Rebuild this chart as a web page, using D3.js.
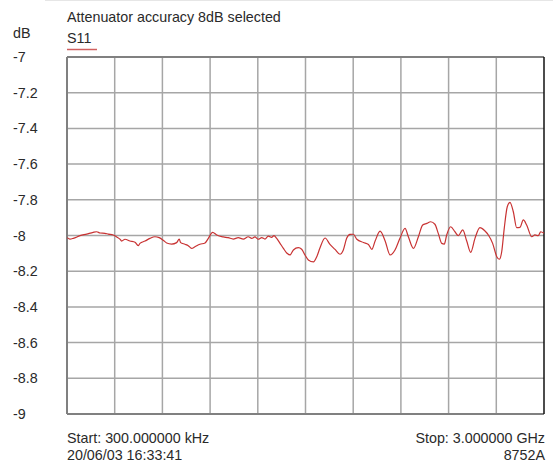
<!DOCTYPE html>
<html>
<head>
<meta charset="utf-8">
<script src="https://cdn.jsdelivr.net/npm/d3@7"></script>
<style>
  html, body { margin: 0; padding: 0; background: #fff; }
  svg { display: block; }
  text { font-family: "Liberation Sans", Arial, sans-serif; fill: #2a2a2a; }
</style>
</head>
<body>
<svg id="chart" width="553" height="463"></svg>
<script>
// ---- data ----
const title = "Attenuator accuracy 8dB selected";
const seriesName = "S11";
const yUnit = "dB";
const yTicks = [-7, -7.2, -7.4, -7.6, -7.8, -8, -8.2, -8.4, -8.6, -8.8, -9];
const yTickLabels = ["-7", "-7.2", "-7.4", "-7.6", "-7.8", "-8", "-8.2", "-8.4", "-8.6", "-8.8", "-9"];
const xDivisions = [0, 1, 2, 3, 4, 5, 6, 7, 8, 9, 10];
const startLabel = "Start: 300.000000 kHz";
const stopLabel = "Stop: 3.000000 GHz";
const dateLabel = "20/06/03 16:33:41";
const modelLabel = "8752A";
// frequency (MHz)
const freqMHz = [2, 19, 40, 82, 124, 165, 187, 208, 239, 260, 291, 313, 333, 344, 365, 396, 428, 448, 459, 491,
  522, 553, 580, 606, 627, 658, 690, 706, 715, 742, 763, 784, 805, 836, 868, 889, 916, 942, 983, 1014,
  1046, 1077, 1109, 1140, 1162, 1182, 1203, 1225, 1245, 1266, 1287, 1302, 1319, 1340, 1361, 1382, 1403, 1424, 1455, 1476,
  1497, 1518, 1550, 1571, 1591, 1623, 1654, 1686, 1717, 1738, 1759, 1780, 1801, 1823, 1864, 1896, 1917, 1938, 1969, 2001,
  2032, 2063, 2094, 2126, 2147, 2179, 2210, 2237, 2263, 2287, 2314, 2335, 2357, 2373, 2388, 2413, 2440, 2461, 2489, 2514,
  2539, 2566, 2597, 2629, 2650, 2677, 2703, 2719, 2734, 2750, 2769, 2786, 2807, 2828, 2849, 2870, 2891, 2923, 2943, 2964,
  2979, 3000];
// S11 (dB)
const s11dB = [-8.012, -8.020, -8.016, -8.001, -7.992, -7.982, -7.979, -7.986, -7.988, -7.992, -7.997, -8.008, -8.020, -8.031, -8.021, -8.031, -8.038, -8.057, -8.044, -8.031,
  -8.016, -8.007, -8.012, -8.027, -8.042, -8.048, -8.040, -8.020, -8.040, -8.049, -8.057, -8.072, -8.063, -8.049, -8.042, -8.016, -7.982, -7.997, -8.008, -8.012,
  -8.020, -8.012, -8.020, -8.007, -8.016, -8.008, -8.021, -8.012, -8.020, -8.004, -8.010, -8.001, -8.016, -8.044, -8.072, -8.098, -8.109, -8.081, -8.068, -8.077,
  -8.109, -8.137, -8.148, -8.119, -8.070, -8.014, -8.050, -8.078, -8.105, -8.081, -8.016, -7.994, -7.993, -8.021, -8.039, -8.050, -8.078, -8.031, -7.976, -8.031,
  -8.109, -8.081, -8.016, -7.960, -8.007, -8.072, -8.007, -7.941, -7.932, -7.923, -7.937, -7.988, -8.044, -8.048, -7.997, -7.951, -7.979, -8.001, -7.969, -8.031,
  -8.094, -8.016, -7.956, -7.975, -7.997, -8.044, -8.119, -8.133, -8.091, -7.960, -7.839, -7.814, -7.867, -7.956, -7.954, -7.913, -7.941, -8.007, -7.997, -8.001,
  -7.979, -7.988];

// ---- layout ----
const svg = d3.select("#chart");
const mLeft = 67, mRight = 544, mTop = 57, mBottom = 414;
const fs = 14.3;

const x = d3.scaleLinear().domain([0.3, 3000]).range([mLeft, mRight]);
const xDiv = d3.scaleLinear().domain([0, 10]).range([mLeft, mRight]);
const y = d3.scaleLinear().domain([-9, -7]).range([mBottom, mTop]);

// faint top rule
svg.append("line").attr("x1", 45).attr("x2", 553).attr("y1", 0.5).attr("y2", 0.5)
  .attr("stroke", "#e6e6e6").attr("stroke-width", 1);

// grid
const grid = svg.append("g");
grid.selectAll("line.v").data(xDivisions.slice(1, -1)).join("line")
  .attr("class", "v")
  .attr("x1", d => xDiv(d)).attr("x2", d => xDiv(d))
  .attr("y1", mTop).attr("y2", mBottom)
  .attr("stroke", "#a6a6a6").attr("stroke-width", 1.5);
grid.selectAll("line.h").data(yTicks.slice(1, -1)).join("line")
  .attr("class", "h")
  .attr("x1", mLeft).attr("x2", mRight)
  .attr("y1", d => y(d)).attr("y2", d => y(d))
  .attr("stroke", "#a6a6a6").attr("stroke-width", 1.5);

// frame
svg.append("line").attr("x1", mLeft).attr("x2", mRight).attr("y1", mTop).attr("y2", mTop)
  .attr("stroke", "#808080").attr("stroke-width", 2);
svg.append("line").attr("x1", mLeft).attr("x2", mRight).attr("y1", mBottom).attr("y2", mBottom)
  .attr("stroke", "#808080").attr("stroke-width", 2);
svg.append("line").attr("x1", mLeft).attr("x2", mLeft).attr("y1", mTop).attr("y2", mBottom)
  .attr("stroke", "#808080").attr("stroke-width", 2);
svg.append("line").attr("x1", mRight).attr("x2", mRight).attr("y1", mTop).attr("y2", mBottom)
  .attr("stroke", "#111").attr("stroke-width", 1.5);

// trace
const pts = freqMHz.map((f, i) => [f, s11dB[i]]);
svg.append("path").datum(pts)
  .attr("fill", "none").attr("stroke", "#c83232").attr("stroke-width", 1.2)
  .attr("d", d3.line().x(d => x(d[0])).y(d => y(d[1])).curve(d3.curveMonotoneX));

// y labels
svg.selectAll("text.yt").data(yTicks).join("text")
  .attr("class", "yt")
  .attr("x", 13).attr("y", d => y(d)).attr("dy", "0.35em")
  .attr("font-size", fs)
  .text((d, i) => yTickLabels[i]);

svg.append("text").attr("x", 13).attr("y", 33).attr("dy", "0.35em").attr("font-size", fs).text(yUnit);
svg.append("text").attr("x", 67).attr("y", 17).attr("dy", "0.35em").attr("font-size", fs).text(title);
svg.append("text").attr("x", 67).attr("y", 38).attr("dy", "0.35em").attr("font-size", fs).text(seriesName);
svg.append("line").attr("x1", 67).attr("x2", 97).attr("y1", 49.5).attr("y2", 49.5)
  .attr("stroke", "#d06060").attr("stroke-width", 1.5);

// bottom labels
svg.append("text").attr("x", 67).attr("y", 438).attr("dy", "0.35em").attr("font-size", fs).text(startLabel);
svg.append("text").attr("x", 67).attr("y", 455).attr("dy", "0.35em").attr("font-size", fs).text(dateLabel);
svg.append("text").attr("x", 545).attr("y", 438).attr("dy", "0.35em").attr("font-size", fs)
  .attr("text-anchor", "end").text(stopLabel);
svg.append("text").attr("x", 545).attr("y", 455).attr("dy", "0.35em").attr("font-size", fs)
  .attr("text-anchor", "end").text(modelLabel);
</script>
</body>
</html>
